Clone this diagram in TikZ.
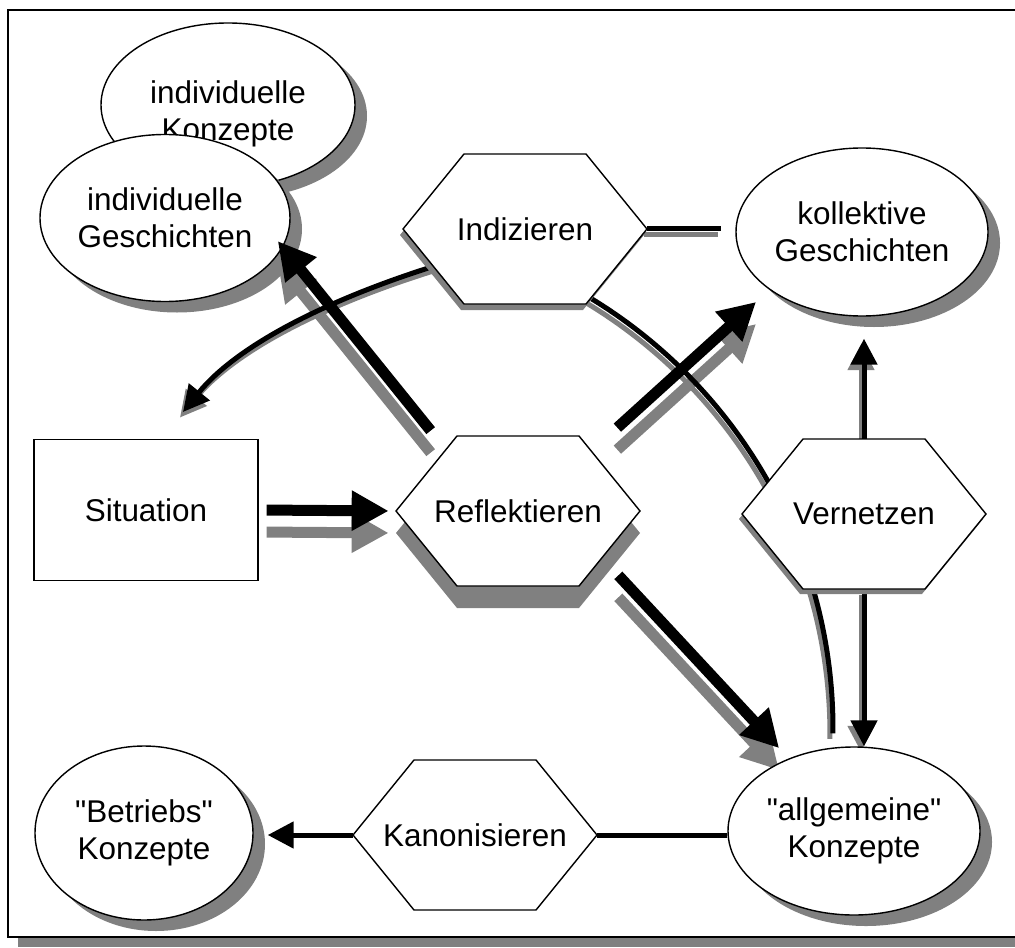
\documentclass[tikz,border=0pt]{standalone}
\usepackage{fontspec}
\setmainfont{Liberation Sans}[Ligatures=TeXOff]
\usetikzlibrary{arrows.meta, calc, shapes.geometric, shadows, backgrounds}

% Sechseck: Name, Mitte, Text, Schatten
\newcommand\sechseck[4]{%
	\path[#4] (#2) ++(-122,0) -- ++(61,-75) -- ++(122,0) -- ++(61,75) -- ++(-61,75) -- ++(-122,0) -- cycle;
	\filldraw[fill=white, line width=0.8pt] (#2) ++(-122,0) -- ++(61,-75) -- ++(122,0) -- ++(61,75) -- ++(-61,75) -- ++(-122,0) -- cycle;
	\node[hex] (#1) at (#2) {#3};
}

\begin{document}
\begin{tikzpicture}[x=0.2mm, y=-0.2mm,
		every node/.style={font=\fontsize{17.9pt}{20.8pt}\selectfont},
		ell/.style={ellipse, draw, line width=0.8pt, fill=white, inner sep=0pt, align=center,
			drop shadow={shadow xshift=2.4mm, shadow yshift=-2.2mm, fill=gray, opacity=1}},
		hex/.style={rectangle, minimum width=48.8mm, minimum height=30mm, inner sep=0pt},
		fat/.style={line width=2.2mm, -{Triangle[length=7.4mm, width=7.6mm]}},
		duenn/.style={line width=1mm},
		pfeil/.style={duenn, -{Triangle[length=5.2mm, width=5.2mm]}},
		grauschatten/.style={gray, transform canvas={xshift=-0.6mm, yshift=-1.1mm}},
		fatschatten/.style={gray, transform canvas={yshift=-4.4mm}}]
		\useasboundingbox (0,0) rectangle (1015,947);
		
		\node[ell, minimum width=50.8mm, minimum height=32.8mm, text height=15.4mm] (iKon) at (228,105) {individuelle\\Konzepte};
		\node[ell, minimum width=50mm, minimum height=33.4mm] (iGes) at (165,218) {individuelle\\Geschichten};
		\node[ell, minimum width=50.4mm, minimum height=33.6mm] (kGes) at (862,232) {kollektive\\Geschichten};
		\node[ell, minimum width=50.4mm, minimum height=33.6mm] (aKon) at (854,831) {"allgemeine"\\Konzepte};
		\node[ell, minimum width=43.6mm, minimum height=34.8mm] (bKon) at (144,833) {"Betriebs"\\Konzepte};
		\node[draw, line width=0.8pt, minimum width=44.8mm, minimum height=28.2mm] (sit) at (146,510) {Situation};
		
		\sechseck{ind}{525,229}{Indizieren}{fill=gray, shift={(-3,6)}}
		\sechseck{refl}{518,511}{Reflektieren}{fill=gray, shift={(0,22)}}
		\sechseck{vern}{864,514}{Vernetzen}{fill=gray, shift={(-3,5)}}
		\sechseck{kan}{475,835}{Kanonisieren}{}
		
		\begin{scope}[on background layer]
			% Rahmen
			\fill[gray] (18,18) rectangle (1025,947);
			\filldraw[fill=white, line width=1.1pt] (8,10) rectangle (1020,937);
			
			\draw[fat, fatschatten, shorten <=1.6mm, shorten >=1.4mm] (sit.east) -- (refl.west);
			\draw[fat, fatschatten, shorten >=-1.6mm] ([shift={(35,-5)}]refl.north west) -- (iGes.-14);
			\draw[fat, fatschatten, shorten >=3.6mm] ([shift={(-23,-8)}]refl.north east) -- (kGes.212);
			\draw[fat, fatschatten, shorten >=2.8mm] ([shift={(-22,-11)}]refl.south east) -- (aKon.132);
			
			\draw[duenn, grauschatten] ([shift={(56,63.5)}]ind.center) arc[start angle=-60, end angle=0.5, radius=504];
			\draw[duenn] ([shift={(56,63.5)}]ind.center) arc[start angle=-60, end angle=0.5, radius=504];
			\draw[pfeil, grauschatten] ([shift={(32,37)}]ind.west) .. controls (320,302) and (235,348) .. (183,412);
			\draw[pfeil] ([shift={(32,37)}]ind.west) .. controls (320,302) and (235,348) .. (183,412);
			\draw[duenn, grauschatten, shorten >=2.8mm] (ind.east) -- (ind.east -| kGes.west);
			\draw[duenn, shorten >=2.8mm] (ind.east) -- (ind.east -| kGes.west);
			\draw[pfeil, grauschatten, shorten >=4.4mm] (vern.north) -- (vern.north |- kGes.south);
			\draw[pfeil, shorten >=4.4mm] (vern.north) -- (vern.north |- kGes.south);
			\draw[pfeil, grauschatten] (vern.south) -- (vern.south |- aKon.north);
			\draw[pfeil] (vern.south) -- (vern.south |- aKon.north);
			\draw[duenn] (kan.east) -- (kan.east -| aKon.west);
			\draw[pfeil, shorten >=2.8mm] (kan.west) -- (kan.west -| bKon.east);
		\end{scope}
		
		\draw[fat, shorten <=1.6mm, shorten >=1.4mm] (sit.east) -- (refl.west);
		\draw[fat, shorten >=-1.6mm] ([shift={(35,-5)}]refl.north west) -- (iGes.-14);
		\draw[fat, shorten >=3.6mm] ([shift={(-23,-8)}]refl.north east) -- (kGes.212);
		\draw[fat, shorten >=2.8mm] ([shift={(-22,-11)}]refl.south east) -- (aKon.132);
	\end{tikzpicture}
\end{document}
